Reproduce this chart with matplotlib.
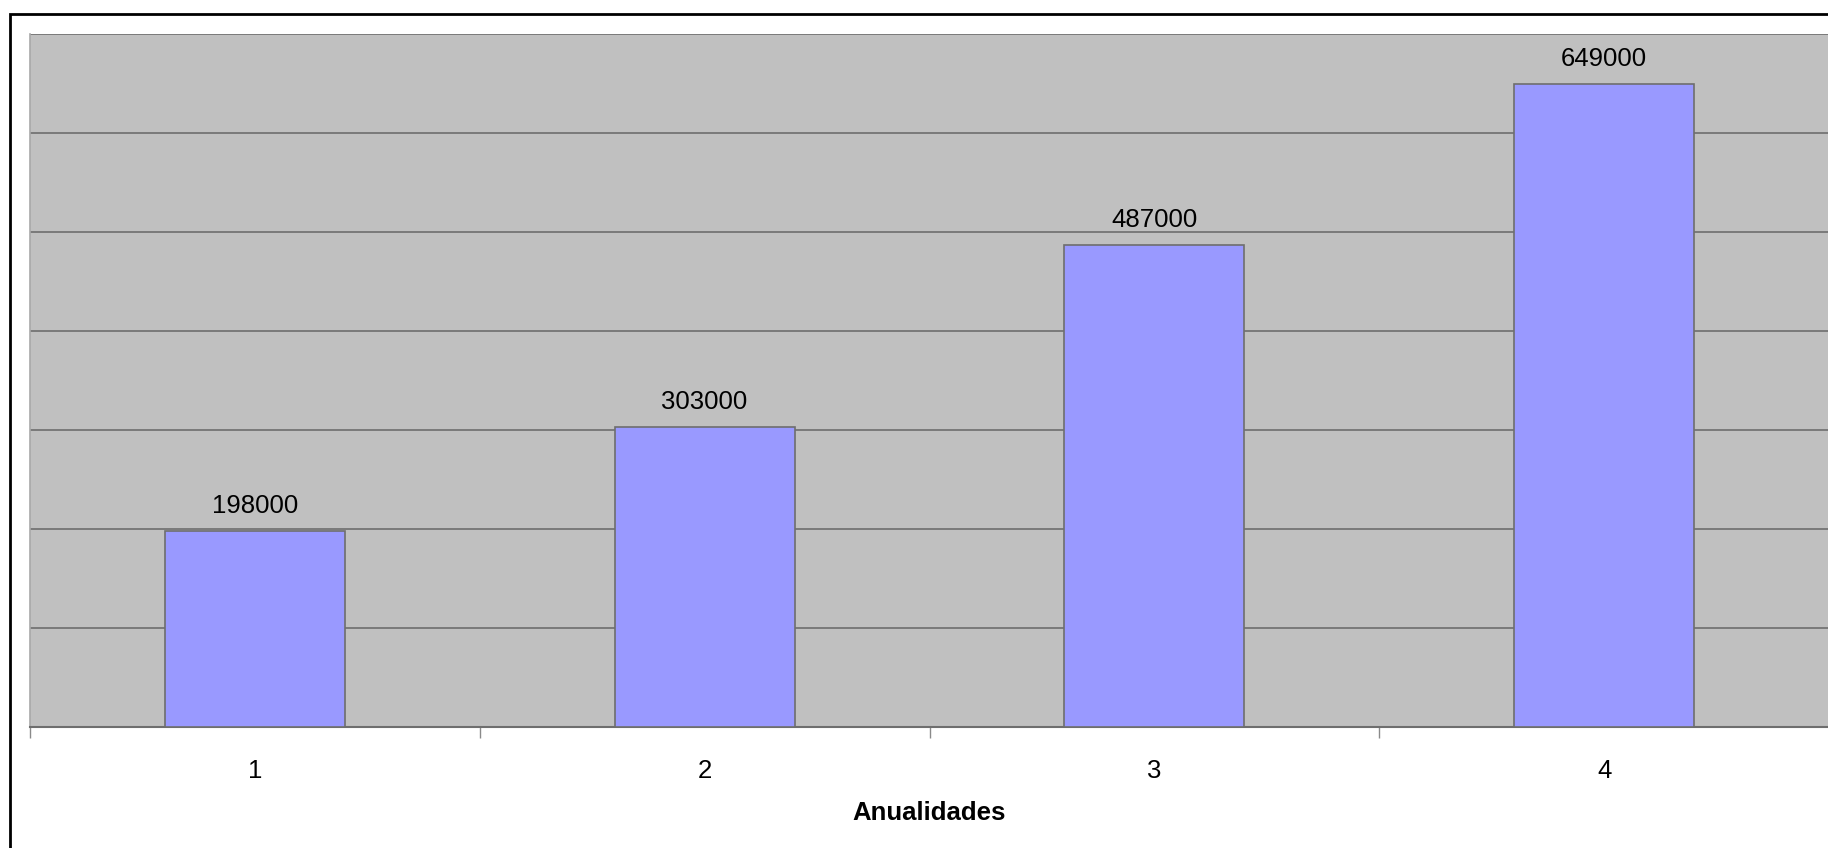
import matplotlib.pyplot as plt
from matplotlib.patches import Rectangle
from matplotlib.ticker import MultipleLocator

# data
categories = ['1', '2', '3', '4']
values = [198000, 303000, 487000, 649000]

plt.rcParams['font.family'] = ['Liberation Sans', 'DejaVu Sans']

fig = plt.figure(figsize=(18.28, 8.48), dpi=100)
ax = fig.add_axes([30 / 1828, 1 - 727 / 848, 1799 / 1828, 693 / 848])

# outer chart frame (Excel style)
fig.patches.append(Rectangle((10 / 1828, -0.1), 1.2, 1 - 14 / 848 + 0.1,
                             transform=fig.transFigure, fill=False,
                             edgecolor='black', linewidth=2, zorder=0))

x = list(range(1, len(categories) + 1))
ax.set_facecolor('#c0c0c0')
ax.bar(x, values, width=0.4, color='#9999ff', edgecolor='#6e6e6e',
       linewidth=1.2, zorder=3)

for xi, v in zip(x, values):
    ax.annotate(str(v), (xi, v), xytext=(0, 13), textcoords='offset points',
                ha='center', va='baseline', fontsize=18.5, color='black')

ax.set_xlim(0.5, 4.5)
ax.set_ylim(0, 700000)
ax.yaxis.set_major_locator(MultipleLocator(100000))
ax.grid(axis='y', color='#6e6e6e', linewidth=1.2, zorder=1)
ax.tick_params(axis='y', left=False, labelleft=False)

ax.set_xticks(x)
ax.set_xticklabels(categories)
ax.tick_params(axis='x', which='major', length=0, pad=23, labelsize=18.5)
ax.set_xticks([0.5, 1.5, 2.5, 3.5, 4.5], minor=True)
ax.tick_params(axis='x', which='minor', length=8, width=1, color='#8a8a8a')

ax.set_xlabel('Anualidades', fontsize=18.5, fontweight='bold', labelpad=13)

for side in ['top', 'right']:
    ax.spines[side].set_visible(False)
ax.spines['bottom'].set_color('#6e6e6e')
ax.spines['bottom'].set_linewidth(1.5)
ax.spines['left'].set_color('#a8a8a8')
ax.spines['left'].set_linewidth(1.2)

fig.savefig('out.png', dpi=100)
